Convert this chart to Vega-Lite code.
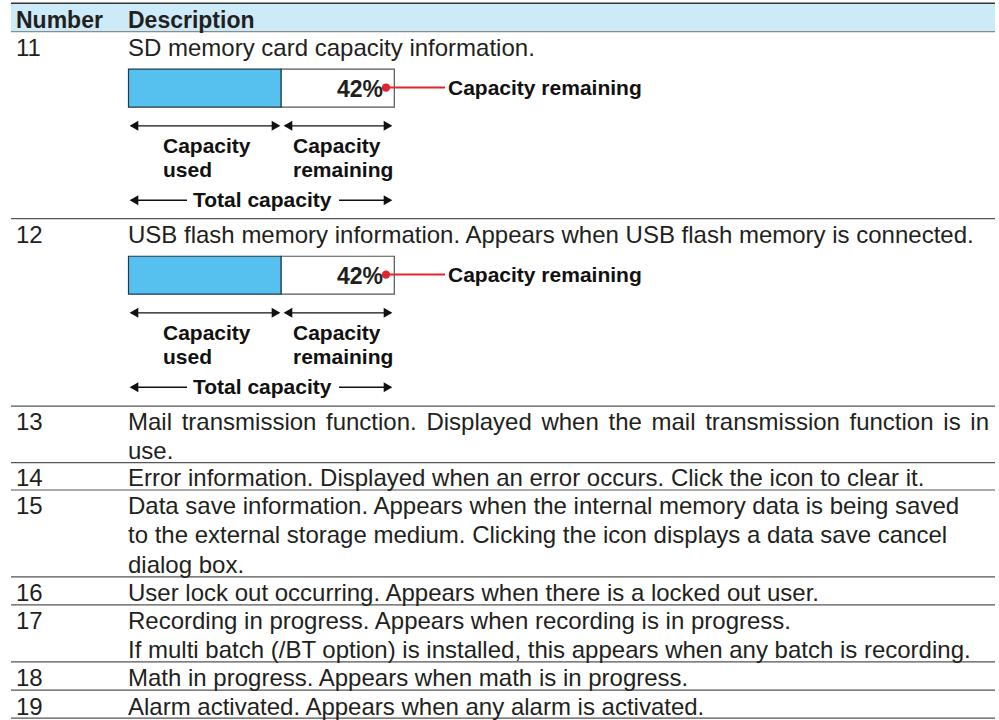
{
  "$schema": "https://vega.github.io/schema/vega-lite/v6.json",
  "width": 999,
  "height": 720,
  "autosize": {"type": "fit", "contains": "padding"},
  "padding": 0,
  "background": "white",
  "config": {"view": {"stroke": null}},
  "layer": [
    {
      "data": {"values": [{"x": 11, "x2": 995, "y": 3.3, "y2": 31.7}]},
      "mark": {"type": "rect", "fill": "#cdeaf8"},
      "encoding": {
        "x": {"field": "x", "type": "quantitative", "scale": {"domain": [0, 999], "nice": false, "zero": false}, "axis": null},
        "x2": {"field": "x2"},
        "y": {"field": "y", "type": "quantitative", "scale": {"domain": [0, 720], "nice": false, "zero": false, "reverse": true}, "axis": null},
        "y2": {"field": "y2"}
      }
    },
    {
      "data": {"values": [
        {"y": 3.3, "k": "top"}, {"y": 31.7, "k": "head"}, {"y": 219, "k": "row"}, {"y": 406.7, "k": "row"},
        {"y": 463.3, "k": "row"}, {"y": 490.7, "k": "row"}, {"y": 577.7, "k": "row"}, {"y": 605.7, "k": "row"},
        {"y": 662.7, "k": "row"}, {"y": 691, "k": "row"}, {"y": 719.2, "k": "row"}
      ]},
      "mark": {"type": "rule"},
      "encoding": {
        "x": {"datum": 11, "type": "quantitative", "scale": {"domain": [0, 999], "nice": false, "zero": false}, "axis": null},
        "x2": {"datum": 995},
        "y": {"field": "y", "type": "quantitative", "scale": {"domain": [0, 720], "nice": false, "zero": false, "reverse": true}, "axis": null},
        "color": {"field": "k", "type": "nominal", "scale": {"domain": ["top", "head", "row"], "range": ["#333333", "#8c8c8c", "#555555"]}, "legend": null},
        "size": {"field": "k", "type": "nominal", "scale": {"domain": ["top", "head", "row"], "range": [1.6, 1.2, 1.3]}, "legend": null}
      }
    },
    {
      "data": {"values": [
        {"part": "remaining", "x": 281, "x2": 394.3, "y": 69.3, "y2": 107.3},
        {"part": "used", "x": 128.5, "x2": 281, "y": 69.3, "y2": 107.3},
        {"part": "remaining", "x": 281, "x2": 394.3, "y": 256.6, "y2": 294.6},
        {"part": "used", "x": 128.5, "x2": 281, "y": 256.6, "y2": 294.6}
      ]},
      "mark": {"type": "rect", "strokeWidth": 1.2},
      "encoding": {
        "x": {"field": "x", "type": "quantitative", "scale": {"domain": [0, 999], "nice": false, "zero": false}, "axis": null},
        "x2": {"field": "x2"},
        "y": {"field": "y", "type": "quantitative", "scale": {"domain": [0, 720], "nice": false, "zero": false, "reverse": true}, "axis": null},
        "y2": {"field": "y2"},
        "fill": {"field": "part", "type": "nominal", "scale": {"domain": ["used", "remaining"], "range": ["#56c1ee", "#ffffff"]}, "legend": null},
        "stroke": {"field": "part", "type": "nominal", "scale": {"domain": ["used", "remaining"], "range": ["#1e3a4c", "#555555"]}, "legend": null}
      }
    },
    {
      "data": {"values": [{"x": 386, "x2": 445, "y": 87.7}, {"x": 386, "x2": 445, "y": 275}]},
      "mark": {"type": "rule", "color": "#e3262d", "strokeWidth": 2},
      "encoding": {
        "x": {"field": "x", "type": "quantitative", "scale": {"domain": [0, 999], "nice": false, "zero": false}, "axis": null},
        "x2": {"field": "x2"},
        "y": {"field": "y", "type": "quantitative", "scale": {"domain": [0, 720], "nice": false, "zero": false, "reverse": true}, "axis": null}
      }
    },
    {
      "data": {"values": [{"x": 386, "y": 87.7}, {"x": 386, "y": 275}]},
      "mark": {"type": "point", "filled": true, "color": "#e3262d", "size": 70, "opacity": 1, "shape": "circle"},
      "encoding": {
        "x": {"field": "x", "type": "quantitative", "scale": {"domain": [0, 999], "nice": false, "zero": false}, "axis": null},
        "y": {"field": "y", "type": "quantitative", "scale": {"domain": [0, 720], "nice": false, "zero": false, "reverse": true}, "axis": null}
      }
    },
    {
      "data": {"values": [
        {"x": 131, "x2": 279, "y": 126}, {"x": 285, "x2": 391, "y": 126},
        {"x": 131, "x2": 187, "y": 200.5}, {"x": 339, "x2": 391, "y": 200.5},
        {"x": 131, "x2": 279, "y": 313.3}, {"x": 285, "x2": 391, "y": 313.3},
        {"x": 131, "x2": 187, "y": 387.8}, {"x": 339, "x2": 391, "y": 387.8}
      ]},
      "mark": {"type": "rule", "color": "#111111", "strokeWidth": 1.4},
      "encoding": {
        "x": {"field": "x", "type": "quantitative", "scale": {"domain": [0, 999], "nice": false, "zero": false}, "axis": null},
        "x2": {"field": "x2"},
        "y": {"field": "y", "type": "quantitative", "scale": {"domain": [0, 720], "nice": false, "zero": false, "reverse": true}, "axis": null}
      }
    },
    {
      "data": {"values": [
        {"x": 134, "y": 126, "dir": "left"}, {"x": 276, "y": 126, "dir": "right"},
        {"x": 288, "y": 126, "dir": "left"}, {"x": 388, "y": 126, "dir": "right"},
        {"x": 134, "y": 200.5, "dir": "left"}, {"x": 388, "y": 200.5, "dir": "right"},
        {"x": 134, "y": 313.3, "dir": "left"}, {"x": 276, "y": 313.3, "dir": "right"},
        {"x": 288, "y": 313.3, "dir": "left"}, {"x": 388, "y": 313.3, "dir": "right"},
        {"x": 134, "y": 387.8, "dir": "left"}, {"x": 388, "y": 387.8, "dir": "right"}
      ]},
      "mark": {"type": "point", "filled": true, "color": "#111111", "size": 100, "opacity": 1},
      "encoding": {
        "x": {"field": "x", "type": "quantitative", "scale": {"domain": [0, 999], "nice": false, "zero": false}, "axis": null},
        "y": {"field": "y", "type": "quantitative", "scale": {"domain": [0, 720], "nice": false, "zero": false, "reverse": true}, "axis": null},
        "shape": {"field": "dir", "type": "nominal", "scale": {"domain": ["left", "right"], "range": ["triangle-left", "triangle-right"]}, "legend": null}
      }
    },
    {
      "data": {"values": [
        {"t": "Number", "x": 16, "y": 28},
        {"t": "Description", "x": 128, "y": 28}
      ]},
      "mark": {"type": "text", "font": "Liberation Sans", "fontSize": 23, "fontWeight": "bold", "color": "#231f20", "align": "left", "baseline": "alphabetic"},
      "encoding": {
        "x": {"field": "x", "type": "quantitative", "scale": {"domain": [0, 999], "nice": false, "zero": false}, "axis": null},
        "y": {"field": "y", "type": "quantitative", "scale": {"domain": [0, 720], "nice": false, "zero": false, "reverse": true}, "axis": null},
        "text": {"field": "t"}
      }
    },
    {
      "data": {"values": [
        {"t": "42%", "x": 383, "y": 97.5},
        {"t": "42%", "x": 383, "y": 284.8}
      ]},
      "mark": {"type": "text", "font": "Liberation Sans", "fontSize": 23, "fontWeight": "bold", "color": "#231f20", "align": "right", "baseline": "alphabetic"},
      "encoding": {
        "x": {"field": "x", "type": "quantitative", "scale": {"domain": [0, 999], "nice": false, "zero": false}, "axis": null},
        "y": {"field": "y", "type": "quantitative", "scale": {"domain": [0, 720], "nice": false, "zero": false, "reverse": true}, "axis": null},
        "text": {"field": "t"}
      }
    },
    {
      "data": {"values": [
        {"t": "Capacity remaining", "x": 448, "y": 95},
        {"t": "Capacity", "x": 163, "y": 153},
        {"t": "used", "x": 163, "y": 177},
        {"t": "Capacity", "x": 293, "y": 153},
        {"t": "remaining", "x": 293, "y": 177},
        {"t": "Total capacity", "x": 193, "y": 207},
        {"t": "Capacity remaining", "x": 448, "y": 282.3},
        {"t": "Capacity", "x": 163, "y": 340.3},
        {"t": "used", "x": 163, "y": 364.3},
        {"t": "Capacity", "x": 293, "y": 340.3},
        {"t": "remaining", "x": 293, "y": 364.3},
        {"t": "Total capacity", "x": 193, "y": 394.3}
      ]},
      "mark": {"type": "text", "font": "Liberation Sans", "fontSize": 21, "fontWeight": "bold", "color": "#111111", "align": "left", "baseline": "alphabetic"},
      "encoding": {
        "x": {"field": "x", "type": "quantitative", "scale": {"domain": [0, 999], "nice": false, "zero": false}, "axis": null},
        "y": {"field": "y", "type": "quantitative", "scale": {"domain": [0, 720], "nice": false, "zero": false, "reverse": true}, "axis": null},
        "text": {"field": "t"}
      }
    },
    {
      "data": {"values": [
        {"t": "11", "x": 16, "y": 56},
        {"t": "SD memory card capacity information.", "x": 128, "y": 56},
        {"t": "12", "x": 16, "y": 243.3},
        {"t": "USB flash memory information. Appears when USB flash memory is connected.", "x": 128, "y": 243.3},
        {"t": "13", "x": 16, "y": 431},
        {"t": "Mail", "x": 128, "y": 431},
        {"t": "transmission", "x": 181.7, "y": 431},
        {"t": "function.", "x": 326, "y": 431},
        {"t": "Displayed", "x": 426.4, "y": 431},
        {"t": "when", "x": 541.4, "y": 431},
        {"t": "the", "x": 608.5, "y": 431},
        {"t": "mail", "x": 651.5, "y": 431},
        {"t": "transmission", "x": 705.2, "y": 431},
        {"t": "function", "x": 849.5, "y": 431},
        {"t": "is", "x": 943.3, "y": 431},
        {"t": "in", "x": 970.3, "y": 431},
        {"t": "use.", "x": 128, "y": 459.8},
        {"t": "14", "x": 16, "y": 487},
        {"t": "Error information. Displayed when an error occurs. Click the icon to clear it.", "x": 128, "y": 487},
        {"t": "15", "x": 16, "y": 514.7},
        {"t": "Data save information. Appears when the internal memory data is being saved", "x": 128, "y": 514.7},
        {"t": "to the external storage medium. Clicking the icon displays a data save cancel", "x": 128, "y": 544.2},
        {"t": "dialog box.", "x": 128, "y": 573.7},
        {"t": "16", "x": 16, "y": 602},
        {"t": "User lock out occurring. Appears when there is a locked out user.", "x": 128, "y": 602},
        {"t": "17", "x": 16, "y": 629.7},
        {"t": "Recording in progress. Appears when recording is in progress.", "x": 128, "y": 629.7},
        {"t": "If multi batch (/BT option) is installed, this appears when any batch is recording.", "x": 128, "y": 659},
        {"t": "18", "x": 16, "y": 687.3},
        {"t": "Math in progress. Appears when math is in progress.", "x": 128, "y": 687.3},
        {"t": "19", "x": 16, "y": 715.6},
        {"t": "Alarm activated. Appears when any alarm is activated.", "x": 128, "y": 715.6}
      ]},
      "mark": {"type": "text", "font": "Liberation Sans", "fontSize": 24, "color": "#231f20", "align": "left", "baseline": "alphabetic"},
      "encoding": {
        "x": {"field": "x", "type": "quantitative", "scale": {"domain": [0, 999], "nice": false, "zero": false}, "axis": null},
        "y": {"field": "y", "type": "quantitative", "scale": {"domain": [0, 720], "nice": false, "zero": false, "reverse": true}, "axis": null},
        "text": {"field": "t"}
      }
    }
  ]
}
